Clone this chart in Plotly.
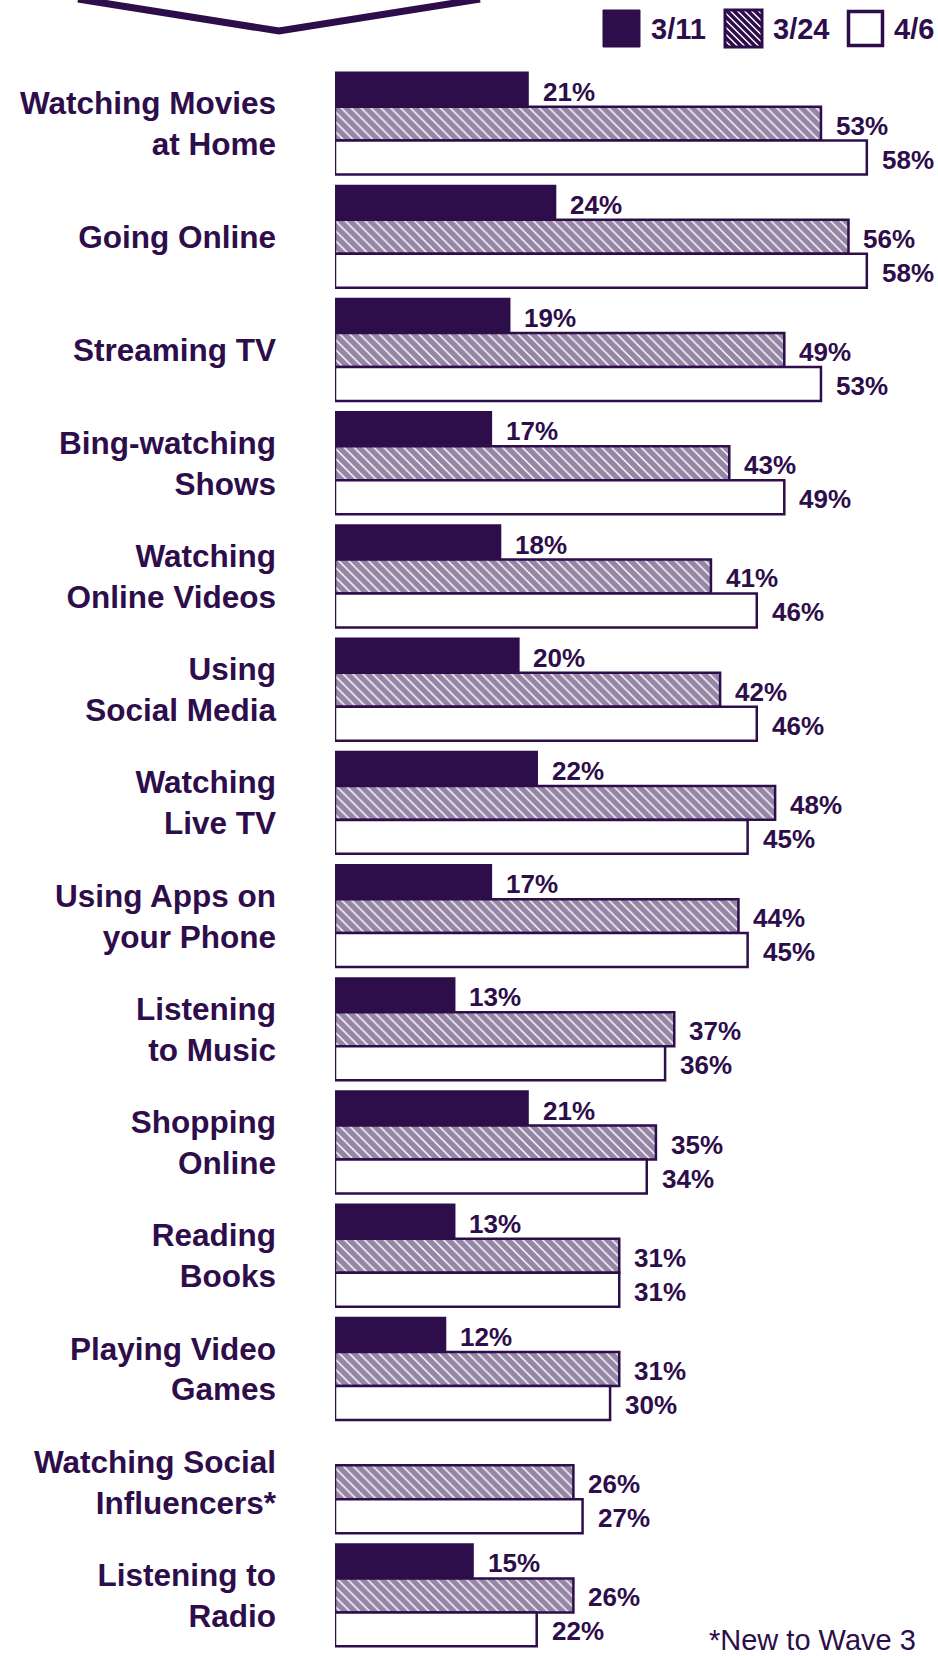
import plotly.graph_objects as go

# ---- data ----
categories = [
    "Watching Movies<br>at Home", "Going Online", "Streaming TV",
    "Bing-watching<br>Shows", "Watching<br>Online Videos", "Using<br>Social Media",
    "Watching<br>Live TV", "Using Apps on<br>your Phone", "Listening<br>to Music",
    "Shopping<br>Online", "Reading<br>Books", "Playing Video<br>Games",
    "Watching Social<br>Influencers*", "Listening to<br>Radio",
]
series_names = ["3/11", "3/24", "4/6"]
wave_3_11 = [21, 24, 19, 17, 18, 20, 22, 17, 13, 21, 13, 12, None, 15]
wave_3_24 = [53, 56, 49, 43, 41, 42, 48, 44, 37, 35, 31, 31, 26, 26]
wave_4_6 = [58, 58, 53, 49, 46, 46, 45, 45, 36, 34, 31, 30, 27, 22]
footnote = "*New to Wave 3"

# ---- style ----
W, H = 938, 1656
L, R, T, B = 335, 7, 67, 4
PW, PH = W - L - R, H - T - B
PURPLE = "#2E0D4B"
FONT = "Liberation Sans, Arial, sans-serif"
BARGAP = 0.10
XMAX = 65


def px_x(p):
    return (p - L) / PW


def px_y(p):
    return 1 - (p - T) / PH


ypos = list(range(len(categories)))
series = [wave_3_11, wave_3_24, wave_4_6]

fig = go.Figure()
styles = [
    dict(color=PURPLE, line=dict(color=PURPLE, width=2.5)),
    dict(color="white", line=dict(color=PURPLE, width=2.5),
         pattern=dict(shape="\\", fgcolor=PURPLE, bgcolor="white",
                      size=7, solidity=0.8, fillmode="overlay")),
    dict(color="white", line=dict(color=PURPLE, width=2.5)),
]
for name, vals, st in zip(series_names, series, styles):
    fig.add_trace(go.Bar(
        y=ypos, x=vals, name=name, orientation="h", marker=st,
        showlegend=False, hoverinfo="x+name",
    ))

# value labels
w = (1 - BARGAP) / 3
annotations = []
for k, vals in enumerate(series):
    for i, v in enumerate(vals):
        if v is None:
            continue
        annotations.append(dict(
            x=v, y=i + (k - 1) * w, xref="x", yref="y",
            text=f"{v}%", showarrow=False, xanchor="left", yanchor="middle",
            xshift=13, yshift=-2,
            font=dict(family=FONT, size=26, color=PURPLE, weight="bold"),
        ))

# legend (custom, large keys)
shapes = []
key_x = [603, 725, 847]
text_x = [649, 771, 892]
ky0, ky1, ks = 10, 47, 37
for idx, (kx, tx, name) in enumerate(zip(key_x, text_x, series_names)):
    if idx == 0:
        shapes.append(dict(type="rect", xref="paper", yref="paper",
                           x0=px_x(kx), x1=px_x(kx + ks), y0=px_y(ky1), y1=px_y(ky0),
                           fillcolor=PURPLE, line=dict(color=PURPLE, width=1)))
    elif idx == 1:
        path = ""
        step = 7
        k = -ks + 3
        while k < ks:
            if k >= 0:
                xa, ya, xb, yb = kx + k, ky0, kx + ks, ky0 + ks - k
            else:
                xa, ya, xb, yb = kx, ky0 - k, kx + ks + k, ky0 + ks
            path += f"M{px_x(xa)},{px_y(ya)} L{px_x(xb)},{px_y(yb)} "
            k += step
        shapes.append(dict(type="rect", xref="paper", yref="paper",
                           x0=px_x(kx), x1=px_x(kx + ks), y0=px_y(ky1), y1=px_y(ky0),
                           fillcolor="white", line=dict(width=0)))
        shapes.append(dict(type="path", xref="paper", yref="paper", path=path,
                           line=dict(color=PURPLE, width=3.5)))
        shapes.append(dict(type="rect", xref="paper", yref="paper",
                           x0=px_x(kx), x1=px_x(kx + ks), y0=px_y(ky1), y1=px_y(ky0),
                           fillcolor="rgba(0,0,0,0)", line=dict(color=PURPLE, width=3)))
    else:
        shapes.append(dict(type="rect", xref="paper", yref="paper",
                           x0=px_x(kx + 1.5), x1=px_x(kx + ks - 1.5),
                           y0=px_y(ky1 - 1.5), y1=px_y(ky0 + 1.5),
                           fillcolor="white", line=dict(color=PURPLE, width=3.5)))
    annotations.append(dict(
        x=px_x(tx), y=px_y((ky0 + ky1) / 2), xref="paper", yref="paper",
        text=name, showarrow=False, xanchor="left", yanchor="middle",
        font=dict(family=FONT, size=29, color=PURPLE, weight="bold"),
    ))

# chevron at the top
shapes.append(dict(
    type="path", xref="paper", yref="paper",
    path=f"M{px_x(78)},{px_y(-1)} L{px_x(279)},{px_y(31)} L{px_x(480)},{px_y(-1)}",
    line=dict(color=PURPLE, width=7),
))

# footnote
annotations.append(dict(
    x=px_x(707), y=px_y(1640), xref="paper", yref="paper",
    text=footnote, showarrow=False, xanchor="left", yanchor="middle",
    font=dict(family=FONT, size=29, color=PURPLE),
))

fig.update_layout(
    width=W, height=H,
    margin=dict(l=L, r=R, t=T, b=B, pad=0),
    barmode="group", bargap=BARGAP, bargroupgap=0,
    plot_bgcolor="white", paper_bgcolor="white",
    showlegend=False,
    xaxis=dict(range=[0, XMAX], visible=False, showgrid=False, zeroline=False),
    yaxis=dict(
        tickvals=ypos, ticktext=categories, range=[len(categories) - 0.5, -0.5],
        showgrid=False, zeroline=False, showline=False, ticks="",
        ticklabelstandoff=58,
        tickfont=dict(family=FONT, size=31.5, color=PURPLE, weight="bold"),
    ),
    annotations=annotations,
    shapes=shapes,
)

fig.write_html("out.html")
